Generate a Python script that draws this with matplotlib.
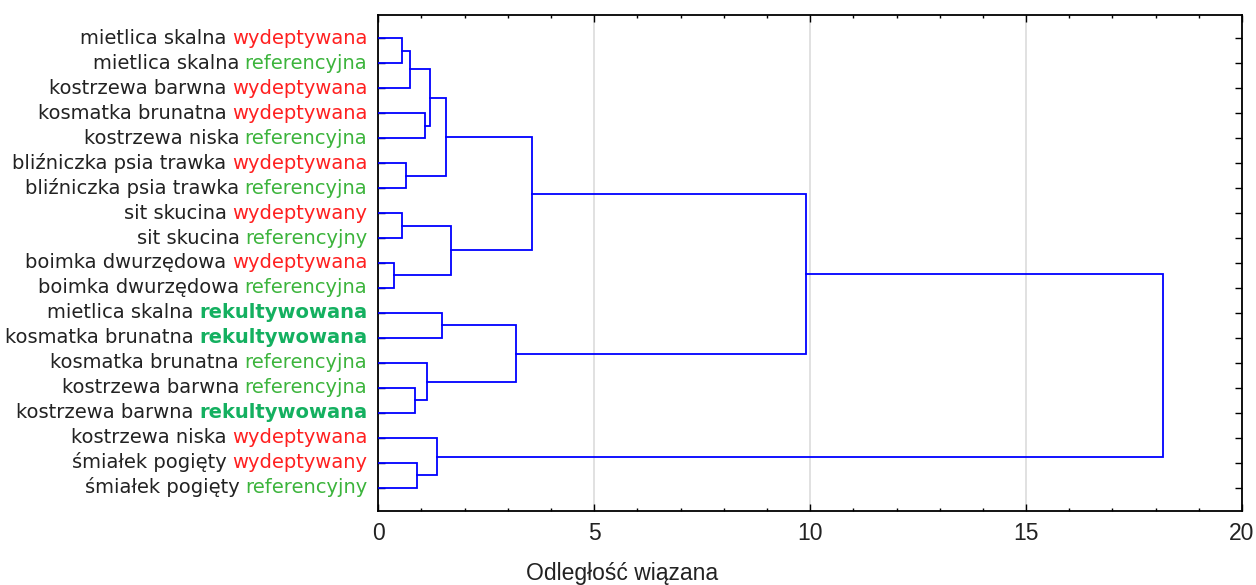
import numpy as np
import matplotlib
matplotlib.use("Agg")
import matplotlib.pyplot as plt
from matplotlib.ticker import MultipleLocator

plt.rcParams['font.family'] = ['Liberation Sans Narrow', 'Liberation Sans', 'DejaVu Sans']

# leaf labels, top to bottom
species = ["mietlica skalna", "mietlica skalna", "kostrzewa barwna",
           "kosmatka brunatna", "kostrzewa niska", "bliźniczka psia trawka",
           "bliźniczka psia trawka", "sit skucina", "sit skucina",
           "boimka dwurzędowa", "boimka dwurzędowa", "mietlica skalna",
           "kosmatka brunatna", "kosmatka brunatna", "kostrzewa barwna",
           "kostrzewa barwna", "kostrzewa niska", "śmiałek pogięty",
           "śmiałek pogięty"]
treatment = ["wydeptywana", "referencyjna", "wydeptywana", "wydeptywana",
             "referencyjna", "wydeptywana", "referencyjna", "wydeptywany",
             "referencyjny", "wydeptywana", "referencyjna", "rekultywowana",
             "rekultywowana", "referencyjna", "referencyjna", "rekultywowana",
             "wydeptywana", "wydeptywany", "referencyjny"]

# merges: (child, child, linkage distance); ids >= 19 point to earlier merges
merge_a = [0, 19, 3, 20, 5, 22, 7, 9, 25, 24, 11, 14, 13, 29, 28, 17, 16, 33]
merge_b = [1, 2, 4, 21, 6, 23, 8, 10, 26, 27, 12, 15, 30, 31, 32, 18, 34, 35]
merge_h = [0.56, 0.73, 1.08, 1.20, 0.64, 1.56, 0.56, 0.36, 1.68, 3.55,
           1.48, 0.84, 1.12, 3.19, 9.90, 0.89, 1.37, 18.17]

n = len(species)
tcolors = {"wydeptywana": "#ff2020", "wydeptywany": "#ff2020",
           "referencyjna": "#3cb43c", "referencyjny": "#3cb43c",
           "rekultywowana": "#14b060"}

fig = plt.figure(figsize=(12.56, 5.85), dpi=100)
ax = fig.add_axes([0.3012, 0.1265, 0.6877, 0.8479])

# node positions
xs = [0.0] * n
ys = list(range(n))
for a, b, h in zip(merge_a, merge_b, merge_h):
    ax.plot([xs[a], h, h, xs[b]], [ys[a], ys[a], ys[b], ys[b]],
            color="#0000ff", lw=1.3, solid_joinstyle="miter", zorder=3)
    xs.append(h)
    ys.append((ys[a] + ys[b]) / 2)

ax.set_xlim(0, 20)
ax.set_ylim(n - 1 + 0.93, -0.93)
ax.xaxis.set_major_locator(MultipleLocator(5))
ax.xaxis.set_minor_locator(MultipleLocator(1))
ax.set_yticks(range(n))
ax.set_yticklabels([])
ax.grid(axis="x", which="major", color="#dcdcdc", lw=1.2, zorder=0)
ax.tick_params(axis="both", which="both", direction="in", top=True, right=True,
               color="black", width=1.0)
ax.tick_params(axis="x", which="major", length=5, pad=8, labelsize=16.5,
               labelcolor="#222222")
ax.tick_params(axis="x", which="minor", length=2.5)
ax.tick_params(axis="y", which="major", length=5)
for s in ax.spines.values():
    s.set_linewidth(1.3)
    s.set_color("black")

# two-coloured leaf labels
ytr = ax.get_yaxis_transform()
for i in range(n):
    tw = treatment[i]
    t = ax.annotate(tw, xy=(0, i), xycoords=ytr, xytext=(-8, 0),
                    textcoords="offset points", ha="right", va="center",
                    color=tcolors[tw], fontsize=14, family="DejaVu Sans",
                    fontweight="bold" if tw == "rekultywowana" else "normal")
    ax.annotate(species[i], xy=(0, 0), xycoords=t, xytext=(-4, 0),
                textcoords="offset points", ha="right", va="bottom",
                color="#222222", fontsize=14, family="DejaVu Sans")

fig.text(0.495, 0.019, "Odległość wiązana", ha="center", va="center",
         fontsize=16.5, color="#222222")

fig.savefig("out.png", dpi=100)
